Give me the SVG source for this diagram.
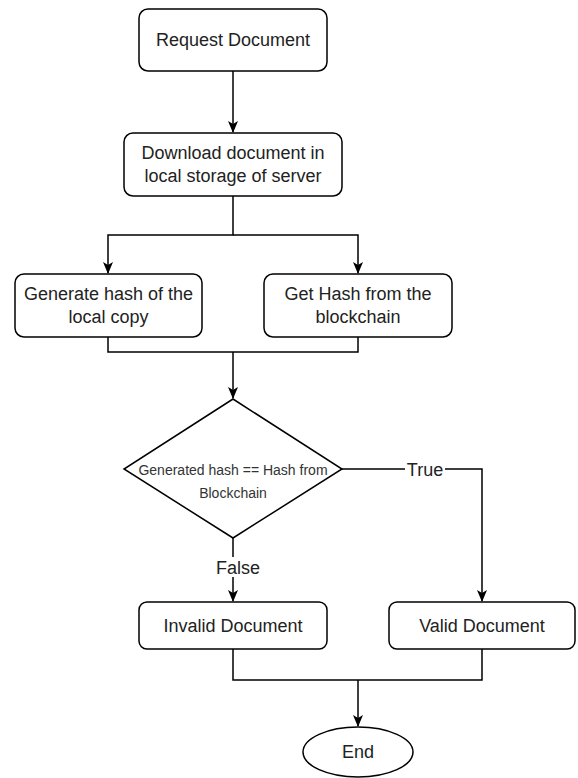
<svg xmlns="http://www.w3.org/2000/svg" width="578" height="778" viewBox="0 0 578 778">
<style>
.box{fill:#fff;stroke:#000;stroke-width:1.5}
.t{font-family:"Liberation Sans",Arial,sans-serif;font-size:18px;fill:#222;text-anchor:middle}
.s{font-family:"Liberation Sans",Arial,sans-serif;font-size:14px;fill:#333;text-anchor:middle}
.e{fill:none;stroke:#000;stroke-width:1.5}
</style>
<defs>
<marker id="arr" viewBox="0 0 12 10" refX="11" refY="5" markerWidth="12" markerHeight="10" markerUnits="userSpaceOnUse" orient="auto">
<path d="M0,0 L12,5 L0,10 L3,5 Z" fill="#000"/>
</marker>
</defs>
<rect width="578" height="778" fill="#fff"/>
<g id="edges">
<path class="e" d="M233,71 V132" marker-end="url(#arr)"/>
<path class="e" d="M233,196 V235 H108 V273" marker-end="url(#arr)"/>
<path class="e" d="M233,235 H358 V273" marker-end="url(#arr)"/>
<path class="e" d="M108,337 V352 H358 V337"/>
<path class="e" d="M233,352 V398" marker-end="url(#arr)"/>
<path class="e" d="M342,469 H482 V601" marker-end="url(#arr)"/>
<path class="e" d="M233,538 V601" marker-end="url(#arr)"/>
<path class="e" d="M233,649 V680 H482 V649"/>
<path class="e" d="M358,680 V726" marker-end="url(#arr)"/>
<rect x="405" y="459" width="40" height="20" fill="#fff"/>
<text class="t" x="425" y="476">True</text>
<rect x="213" y="557" width="48" height="20" fill="#fff"/>
<text class="t" x="238" y="574">False</text>
</g>
<g id="request">
<rect class="box" x="139" y="9" width="188" height="62" rx="9"/>
<text class="t" x="233" y="46">Request Document</text>
</g>
<g id="download">
<rect class="box" x="124" y="133" width="218" height="63" rx="9"/>
<text class="t" x="233" y="159">Download document in</text>
<text class="t" x="233" y="182">local storage of server</text>
</g>
<g id="generate">
<rect class="box" x="15" y="274" width="187" height="63" rx="9"/>
<text class="t" x="108.5" y="300">Generate hash of the</text>
<text class="t" x="108.5" y="323">local copy</text>
</g>
<g id="gethash">
<rect class="box" x="264" y="274" width="188" height="63" rx="9"/>
<text class="t" x="358" y="300">Get Hash from the</text>
<text class="t" x="358" y="323">blockchain</text>
</g>
<g id="decision">
<path class="box" d="M233,399 L342,469 L233,538 L124,469 Z"/>
<text class="s" x="233" y="475">Generated hash == Hash from</text>
<text class="s" x="233" y="498">Blockchain</text>
</g>
<g id="invalid">
<rect class="box" x="139" y="602" width="188" height="47" rx="8"/>
<text class="t" x="233" y="632">Invalid Document</text>
</g>
<g id="valid">
<rect class="box" x="389" y="602" width="186" height="47" rx="8"/>
<text class="t" x="482" y="632">Valid Document</text>
</g>
<g id="end">
<ellipse class="box" cx="358" cy="752" rx="55" ry="25"/>
<text class="t" x="358" y="758">End</text>
</g>
</svg>
